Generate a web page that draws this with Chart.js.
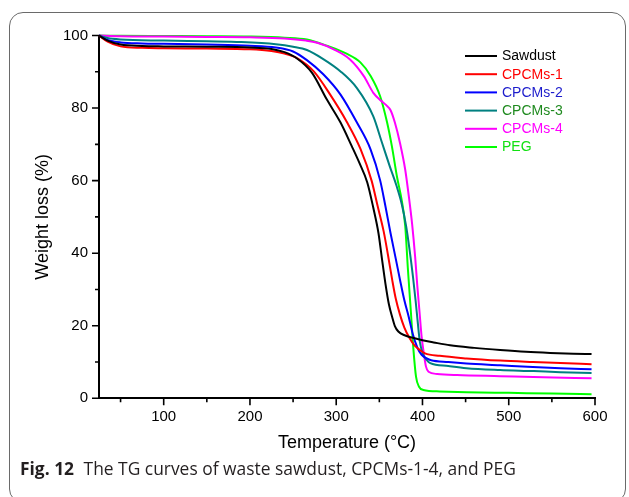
<!DOCTYPE html>
<html>
<head>
<meta charset="utf-8">
<script src="https://cdn.jsdelivr.net/npm/chart.js@4/dist/chart.umd.min.js"></script>
<style>
  html, body { margin: 0; padding: 0; background: #fff; }
  body { width: 629px; height: 497px; position: relative; overflow: hidden; }
  #frame { position: absolute; left: 9px; top: 12px; width: 617px; height: 491px;
           border: 1.5px solid #6a6a6a; border-radius: 14px; box-sizing: border-box; }
  #c { position: absolute; left: 0; top: 0; }
  #cap { position: absolute; left: 20px; top: 456px; font-family: "Open Sans", sans-serif;
         font-size: 17.4px; color: #231f20; white-space: nowrap; }
  #cap b { font-weight: 700; margin-right: 5px; }
</style>
</head>
<body>
<div id="frame"></div>
<canvas id="c" width="629" height="497"></canvas>
<div id="cap"><b>Fig. 12</b> The TG curves of waste sawdust, CPCMs-1-4, and PEG</div>
<script>
// ---- data (temperature °C, weight %) ----
const seriesNames = ["Sawdust", "CPCMs-1", "CPCMs-2", "CPCMs-3", "CPCMs-4", "PEG"];

const sawdust = [[25,100],[35,98.6],[50,97.5],[75,97.1],[100,97.0],[150,96.9],[200,96.7],[225,96.3],[240,95.4],[255,93.6],[272,89.7],[289,82.4],[305,76],[318,69.5],[327,64.8],[336,59.5],[343,52.5],[349,45.5],[353,38.5],[357,31.7],[361,26],[365,22.3],[368,19.9],[372,18.4],[380,17.3],[390,16.6],[400,16.0],[413,15.4],[432,14.6],[460,13.9],[490,13.3],[520,12.8],[548,12.5],[575,12.3],[596,12.2]];

const cpcm1 = [[25,100],[35,98.3],[50,97.0],[75,96.6],[100,96.5],[150,96.4],[200,96.2],[225,95.7],[240,95.0],[255,93.7],[274,90.1],[293,83.7],[312,76.3],[328,68.8],[341,60],[348,53],[355,46],[360,39.5],[365,32.5],[369,27.5],[374,23],[379,19.5],[385,16.6],[391,14.5],[397,13.3],[403,12.4],[420,11.7],[451,11.0],[490,10.4],[528,10.0],[560,9.7],[596,9.4]];

const cpcm2 = [[25,100],[35,98.8],[50,98.1],[75,97.8],[100,97.7],[150,97.5],[200,97.2],[230,96.7],[250,95.6],[266,93.2],[285,89.3],[305,83.7],[324,76],[340,68.5],[351,60],[357,53],[363,45.5],[369,38.5],[374.5,32],[379,27],[384,22.5],[389,17.5],[394,14],[399,12],[405,11.0],[410,10.5],[430,10.0],[451,9.6],[490,9.1],[528,8.6],[560,8.3],[596,8.0]];

const cpcm3 = [[25,100],[35,99.3],[50,98.9],[100,98.6],[150,98.4],[190,98.2],[230,97.6],[250,96.9],[266,96.0],[285,93.5],[305,90.1],[324,85.5],[343,77.7],[353,70.5],[362,64],[370,58.5],[376,53.5],[381,47.5],[385,41],[389,33.5],[392,27],[394.5,21],[397,15.5],[401,12],[405,10.5],[409,9.7],[430,8.9],[451,8.3],[490,7.8],[529,7.5],[560,7.2],[596,7.0]];

const cpcm4 = [[25,100],[50,99.8],[100,99.7],[150,99.6],[200,99.5],[240,99.2],[265,98.6],[278,98.0],[297,96.2],[316,93.4],[332,88.8],[343,84.2],[352,82],[358,80.8],[363,79.4],[368,76],[374,70.3],[380,63],[384,56],[388,48],[391.5,39],[394,31],[396.5,24],[399,17],[401.5,12.5],[404,8.8],[407,7.3],[417,6.7],[440,6.4],[490,6.1],[540,5.8],[596,5.5]];

const peg = [[25,100],[50,99.9],[100,99.85],[150,99.8],[200,99.7],[240,99.4],[266,98.9],[289,97.2],[312,95.0],[328,92.6],[339.5,89],[351,83.2],[359,76],[364.5,69.5],[370.5,61],[376,54.5],[380,47.5],[383,36],[386.5,24],[389.5,13.5],[392.5,6],[396,3.2],[401,2.3],[420,1.9],[451,1.7],[500,1.5],[550,1.3],[596,1.1]];

const seriesData = [sawdust, cpcm1, cpcm2, cpcm3, cpcm4, peg];
const lineColors = ["#000000", "#ff0000", "#0000ff", "#008080", "#ff00ff", "#00ff00"];
const legendTextColors = ["#000000", "#ff0000", "#1c1ccc", "#1f8a1f", "#ff00ff", "#11e011"];

const xMajorTicks = [100, 200, 300, 400, 500, 600];
const xMinorTicks = [50, 150, 250, 350, 450, 550];
const yMajorTicks = [0, 20, 40, 60, 80, 100];
const yMinorTicks = [10, 30, 50, 70, 90];

// ---- plugin: minor/major tick marks and in-plot legend ----
const extras = {
  id: 'extras',
  afterDraw(chart) {
    const ctx = chart.ctx;
    const xs = chart.scales.x, ys = chart.scales.y;
    const ca = chart.chartArea;
    ctx.save();
    ctx.strokeStyle = '#000';
    ctx.lineWidth = 1.6;
    ctx.beginPath();
    xMajorTicks.forEach(v => { const p = xs.getPixelForValue(v); ctx.moveTo(p, ca.bottom); ctx.lineTo(p, ca.bottom + 7); });
    xMinorTicks.forEach(v => { const p = xs.getPixelForValue(v); ctx.moveTo(p, ca.bottom); ctx.lineTo(p, ca.bottom + 4); });
    yMajorTicks.forEach(v => { const p = ys.getPixelForValue(v); ctx.moveTo(ca.left, p); ctx.lineTo(ca.left - 7, p); });
    yMinorTicks.forEach(v => { const p = ys.getPixelForValue(v); ctx.moveTo(ca.left, p); ctx.lineTo(ca.left - 4, p); });
    ctx.stroke();

    // legend
    const lx0 = 465, lx1 = 497, tx = 502, ly0 = 56, dy = 18.2;
    ctx.font = '14px "Liberation Sans", Arial, sans-serif';
    ctx.textBaseline = 'middle';
    ctx.textAlign = 'left';
    seriesNames.forEach((name, i) => {
      const y = ly0 + i * dy;
      ctx.strokeStyle = lineColors[i];
      ctx.lineWidth = 2;
      ctx.beginPath(); ctx.moveTo(lx0, y); ctx.lineTo(lx1, y); ctx.stroke();
      ctx.fillStyle = legendTextColors[i];
      ctx.fillText(name, tx, y + 0.5);
    });
    ctx.restore();
  }
};

Chart.defaults.font.family = '"Liberation Sans", Arial, sans-serif';
Chart.defaults.color = '#000';

new Chart(document.getElementById('c'), {
  type: 'line',
  data: {
    datasets: seriesNames.map((n, i) => ({
      label: n,
      data: seriesData[i].map(p => ({x: p[0], y: p[1]})),
      borderColor: lineColors[i],
      backgroundColor: lineColors[i],
      borderWidth: 2,
      pointRadius: 0,
      fill: false,
      cubicInterpolationMode: 'monotone',
      clip: false
    }))
  },
  options: {
    responsive: false,
    devicePixelRatio: 1,
    animation: false,
    layout: { padding: { left: 0, top: 35.5, right: 34, bottom: 43.5 } },
    plugins: { legend: { display: false }, tooltip: { enabled: false } },
    scales: {
      x: {
        type: 'linear', min: 25, max: 600,
        afterBuildTicks: s => { s.ticks = xMajorTicks.map(v => ({value: v})); },
        afterFit: s => { s.height = 55.2; },
        grid: { display: false, drawTicks: false },
        border: { display: true, color: '#000', width: 2 },
        ticks: { padding: 9.5, font: { size: 15 }, color: '#000' },
        title: { display: true, text: 'Temperature (°C)', font: { size: 18 }, color: '#000', padding: { top: 0, bottom: 0 } }
      },
      y: {
        type: 'linear', min: 0, max: 100,
        afterBuildTicks: s => { s.ticks = yMajorTicks.map(v => ({value: v})); },
        afterFit: s => { s.width = 99; },
        grid: { display: false, drawTicks: false },
        border: { display: true, color: '#000', width: 2 },
        ticks: { padding: 11, font: { size: 15 }, color: '#000' },
        title: { display: true, text: 'Weight loss (%)', font: { size: 18 }, color: '#000', padding: { top: 32, bottom: 0 } }
      }
    }
  },
  plugins: [extras]
});
</script>
</body>
</html>
